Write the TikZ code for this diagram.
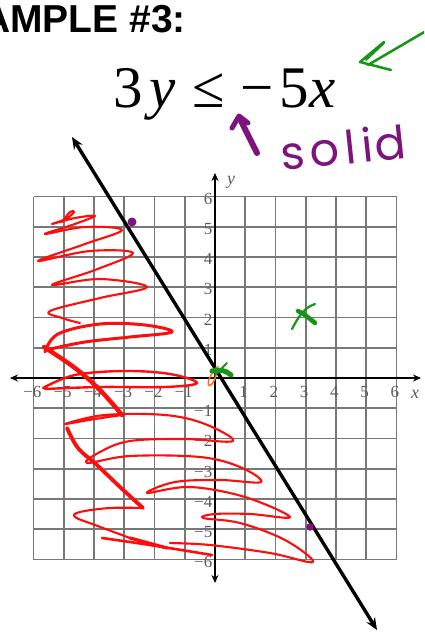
\documentclass[tikz,border=0pt]{standalone}
\usepackage{fontspec}
\setmainfont{Liberation Serif}
\newfontfamily\hdrfont{Liberation Sans}
\newfontfamily\handfont{Poppins}
\usetikzlibrary{arrows.meta}
\definecolor{penred}{RGB}{255,12,12}
\definecolor{penpurple}{RGB}{125,20,125}
\definecolor{pengreen}{RGB}{20,150,20}
\definecolor{penorange}{RGB}{255,110,30}
\definecolor{gridgray}{RGB}{120,120,120}
\definecolor{ticktext}{RGB}{95,90,95}
\tikzset{
  gridline/.style={draw=gridgray, line width=1.7pt},
  axisline/.style={draw=black, line width=1.1pt, {Stealth[length=8pt,width=7pt]}-{Stealth[length=8pt,width=7pt]}},
  ticklbl/.style={text=ticktext, font=\fontsize{17}{17}\selectfont, inner sep=0pt},
  redink/.style={draw=penred, line width=2.1pt, line cap=round, line join=round},
  redthick/.style={draw=penred, line width=3.8pt, line cap=round, line join=round},
  greenink/.style={draw=pengreen, line cap=round, line join=round},
  purpleink/.style={draw=penpurple, line cap=round, line join=round},
  mainline/.style={draw=black, line width=3.4pt, {Stealth[length=12pt,width=10pt]}-{Stealth[length=12pt,width=10pt]}},
}
\begin{document}
\begin{tikzpicture}[x=1pt,y=-1pt]
\useasboundingbox (0,0) rectangle (424,632);
\clip (0,0) rectangle (424,632);
\fill[white] (0,0) rectangle (424,632);

% header
\node[anchor=base west, inner sep=0pt, font=\hdrfont\bfseries\fontsize{39}{39}\selectfont] (title) at (-18,32) {AMPLE \#3:};

% inequality
\node[anchor=base west, inner sep=0pt, font=\fontsize{59}{59}\selectfont] (ineq) at (113,107)
  {3\hspace{7pt}\textit{y}\hspace{17pt}≤\hspace{15pt}−\hspace{6pt}5\textit{x}};

% grid
\begin{scope}[shift={(215,378)}, x=30.25pt, y=30.25pt]
  \foreach \k in {-6,...,6} {
    \draw[gridline] (\k,-6) -- (\k,6);
    \draw[gridline] (-6,\k) -- (6,\k);
  }
  \foreach \k in {1,...,6} {
    \node[ticklbl, anchor=base] (xp\k) at (\k-0.05,-0.63) {\k};
    \node[ticklbl, anchor=base] (xn\k) at (-\k+0.12,-0.63) {\llap{−}\k};
    \node[ticklbl, anchor=center] (yp\k) at (-0.23,\k-0.07) {\k};
    \node[ticklbl, anchor=center] (yn\k) at (-0.23,-\k-0.09) {\llap{−}\k};
  }
\end{scope}

% axes
\coordinate (xl) at (10,378);
\coordinate (xr) at (421,378);
\coordinate (yt) at (215,173);
\coordinate (yb) at (215,583);
\draw[axisline] (xl) -- (xr);
\draw[axisline] (yb) -- (yt);
\node[text=ticktext, font=\fontsize{18}{18}\selectfont\itshape, inner sep=0pt] (ylab) at (231,182) {y};
\node[text=ticktext, font=\fontsize{18}{18}\selectfont\itshape, inner sep=0pt] (xlab) at (415,394) {x};

% red shading scribble
\draw[redink] plot[smooth, tension=0.6] coordinates {(62,222) (70,212) (74,212) (66,219) (52,224) (75,218) (95,216) (72,225) (45,234) (85,227) (122,230) (85,244) (38,261) (90,251) (133,253) (95,270) (52,285) (100,279) (147,287) (100,298) (50,311) (62,318) (80,323)};
\draw[redink, line width=3pt] plot[smooth, tension=0.6] coordinates {(45,352) (58,334) (100,324) (145,325) (172,332) (130,337) (85,342) (46,350)};
\draw[redink, line width=2.4pt] plot[smooth, tension=0.6] coordinates {(43,388) (75,375) (125,371) (170,374) (197,383) (165,387) (100,387) (45,389)};
\draw[redthick, line width=4.4pt] plot[smooth, tension=0.6] coordinates {(44,347) (75,368) (100,390) (122,415)};
\draw[redink] plot[smooth, tension=0.6] coordinates {(122,415) (95,419) (65,424) (105,415) (165,415) (205,424) (233,441) (185,439) (130,441) (100,452) (87,463) (130,456) (200,457) (240,467) (261,482) (220,480) (175,482) (147,493) (190,487) (245,497) (290,517) (250,514) (215,514) (203,518) (240,523) (285,540) (313,562) (270,553) (210,545) (170,543)};
\draw[redthick] plot[smooth, tension=0.6] coordinates {(67,428) (78,448) (97,465) (120,487) (143,508)};
\draw[redink] plot[smooth, tension=0.6] coordinates {(143,508) (110,508) (80,512) (75,517) (95,525) (130,538)};
\draw[redthick, line width=3.2pt] (130,538) -- (167,548);
\draw[redink, line width=2.6pt] plot[smooth, tension=0.6] coordinates {(102,538) (150,545) (212,555)};

% boundary line
\coordinate (ltop) at (72,137);
\coordinate (lbot) at (377,630);
\draw[mainline] (lbot) -- (ltop);

% test points on the line
\fill[penpurple] (132,222) circle (4.5);
\fill[penpurple] (310,527) circle (3.8);

% green test marks
\draw[greenink, line width=2.2pt] (292,329) .. controls (298,318) and (303,308) .. (315,304);
\draw[greenink, line width=4.5pt] (298,311) .. controls (305,314) and (310,319) .. (315,323);
\draw[penorange, line width=1.5pt] (218,366) .. controls (205,380) and (207,389) .. (212,384) .. controls (216,379) and (217,373) .. (216,368);
\draw[greenink, line width=5pt] (212,371) .. controls (218,369) and (226,370) .. (231,375);
\draw[greenink, line width=2pt] (227,363) -- (215,375);

% purple "solid" annotation
\draw[purpleink, line width=6pt] (257,153) -- (241,121);
\draw[purpleink, line width=5pt] (232,128) -- (239,116) -- (248,123);
\node[anchor=base west, inner sep=0pt, text=penpurple, font=\handfont\fontsize{46}{46}\selectfont, rotate=6] (solid) at (282,171)
  {s\hspace{5pt}o\hspace{6pt}l\hspace{6pt}i\hspace{2pt}d};

% green arrow
\draw[greenink, line width=2.5pt] (426,31) -- (368,65);
\draw[greenink, line width=2.5pt] (384,42) -- (360,62) -- (391,70);
\draw[greenink, line width=2pt] (384,43) -- (366,60);
\end{tikzpicture}
\end{document}
